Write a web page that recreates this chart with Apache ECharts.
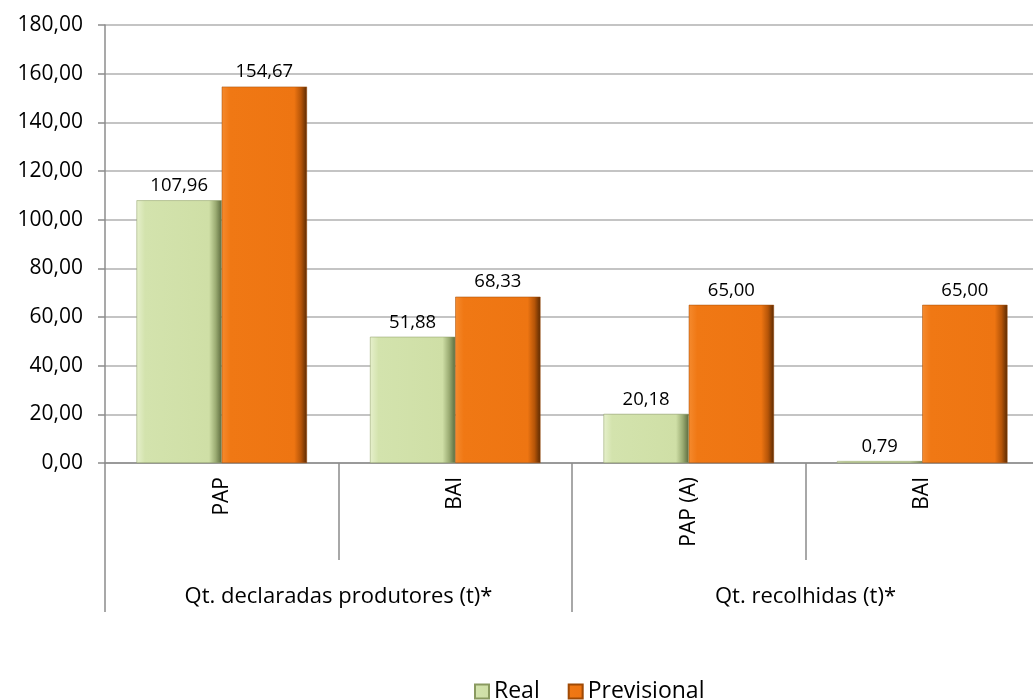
<!DOCTYPE html>
<html>
<head>
<meta charset="utf-8">
<script src="https://cdn.jsdelivr.net/npm/echarts@6/dist/echarts.min.js"></script>
<style>html,body{margin:0;padding:0;background:#fff}#c{width:1033px;height:700px}</style>
</head>
<body>
<div id="c"></div>
<script>
const categories = ['PAP', 'BAI', 'PAP (A)', 'BAI'];
const groups = ['Qt. declaradas produtores (t)*', 'Qt. recolhidas (t)*'];
const realValues = [107.96, 51.88, 20.18, 0.79];
const previsionalValues = [154.67, 68.33, 65.00, 65.00];
const seriesNames = ['Real', 'Previsional'];
const yMin = 0, yMax = 180, yStep = 20;

const FONT = 'Open Sans';
const fmt = v => Number(v).toFixed(2).replace('.', ',');
const gray = '#8c8c8c';

const greenGrad = new echarts.graphic.LinearGradient(0, 0, 1, 0, [
  {offset: 0, color: '#e6f0cc'},
  {offset: 0.1, color: '#d3e3ad'},
  {offset: 0.85, color: '#cfdfa6'},
  {offset: 0.93, color: '#9aab72'},
  {offset: 1, color: '#5c6b3e'}
]);
const orangeGrad = new echarts.graphic.LinearGradient(0, 0, 1, 0, [
  {offset: 0, color: '#f58a2e'},
  {offset: 0.1, color: '#f07814'},
  {offset: 0.85, color: '#ee7512'},
  {offset: 0.93, color: '#b65508'},
  {offset: 1, color: '#5a2a03'}
]);

const chart = echarts.init(document.getElementById('c'), null, {renderer: 'canvas'});
chart.setOption({
  animation: false,
  textStyle: {fontFamily: FONT},
  grid: {left: 105, top: 25, bottom: 237, width: 934, containLabel: false, outerBoundsMode: 'none'},
  legend: {
    data: seriesNames,
    left: 469, top: 675,
    itemWidth: 14, itemHeight: 14, itemGap: 28,
    icon: 'rect',
    textStyle: {fontFamily: FONT, fontSize: 23, color: '#000'}
  },
  xAxis: [{
    type: 'category',
    data: categories,
    position: 'bottom',
    axisLine: {show: true, lineStyle: {color: gray, width: 1.5}},
    axisTick: {show: true, length: 97, interval: 0, alignWithLabel: false, lineStyle: {color: gray, width: 1.5}},
    axisLabel: {rotate: 90, margin: 14, interval: 0, fontSize: 21, color: '#000', fontFamily: FONT}
  }, {
    type: 'category',
    data: groups,
    position: 'bottom',
    offset: 97,
    axisLine: {show: false},
    axisTick: {show: true, length: 52, interval: 0, alignWithLabel: false, lineStyle: {color: gray, width: 1.5}},
    axisLabel: {margin: 26, interval: 0, fontSize: 22, color: '#000', fontFamily: FONT}
  }],
  yAxis: {
    type: 'value',
    min: yMin, max: yMax, interval: yStep,
    axisLine: {show: true, lineStyle: {color: gray, width: 1.5}},
    axisTick: {show: true, length: 7, lineStyle: {color: gray, width: 1.5}},
    splitLine: {show: true, lineStyle: {color: '#b0b0b0', width: 1.5}},
    axisLabel: {formatter: fmt, fontSize: 21, color: '#000', margin: 22, fontFamily: FONT}
  },
  series: [{
    name: seriesNames[0],
    type: 'bar',
    data: realValues,
    xAxisIndex: 0,
    barGap: '0%',
    barCategoryGap: '27%',
    itemStyle: {color: greenGrad, borderColor: '#8a9a60', borderWidth: 0.5},
    label: {show: true, position: 'top', distance: 5, formatter: p => fmt(p.value), fontSize: 18.5, color: '#000', fontFamily: FONT}
  }, {
    name: seriesNames[1],
    type: 'bar',
    data: previsionalValues,
    xAxisIndex: 0,
    barGap: '0%',
    barCategoryGap: '27%',
    itemStyle: {color: orangeGrad, borderColor: '#a04a05', borderWidth: 0.5},
    label: {show: true, position: 'top', distance: 5, formatter: p => fmt(p.value), fontSize: 18.5, color: '#000', fontFamily: FONT}
  }]
});
</script>
</body>
</html>
